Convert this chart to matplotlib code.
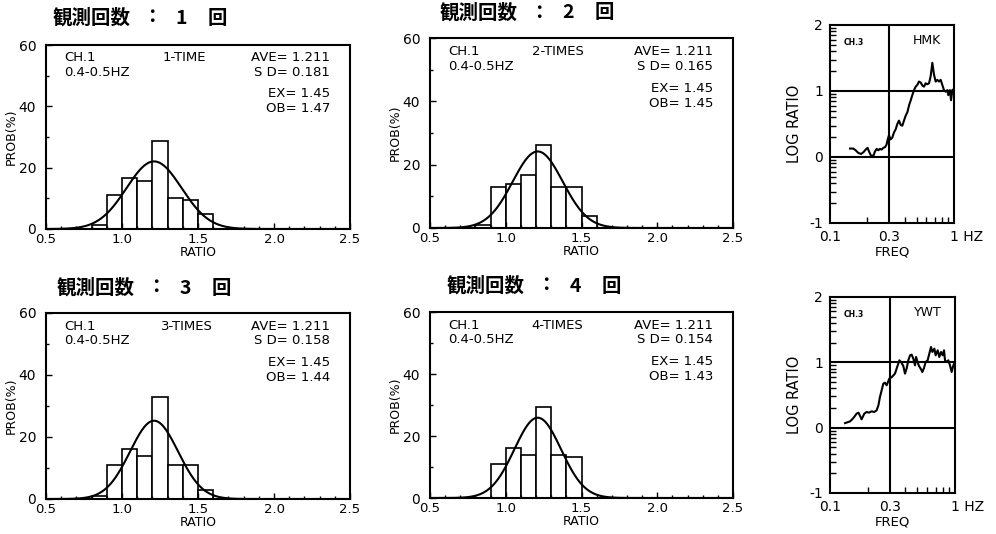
import numpy as np
import matplotlib
matplotlib.use('Agg')
import matplotlib.pyplot as plt
from matplotlib.ticker import FixedLocator, MultipleLocator, NullFormatter

plt.rcParams['font.family'] = ['DejaVu Sans']

# histogram data (bin left edges, width 0.1) -> probability in %
bin_left = [0.8, 0.9, 1.0, 1.1, 1.2, 1.3, 1.4, 1.5]
prob_1 = [1.4, 11.0, 16.5, 15.7, 28.6, 10.0, 9.4, 4.9]
prob_2 = [0.8, 12.9, 14.0, 16.8, 26.1, 12.9, 12.9, 3.9]
prob_3 = [0.9, 11.1, 16.0, 13.8, 33.0, 10.9, 10.9, 2.8]
prob_4 = [0.0, 11.1, 16.0, 13.8, 29.5, 14.0, 13.3, 0.0]

ave = [1.211, 1.211, 1.211, 1.211]
sd = [0.181, 0.165, 0.158, 0.154]
ex = [1.45, 1.45, 1.45, 1.45]
ob = [1.47, 1.45, 1.44, 1.43]
times = ['1-TIME', '2-TIMES', '3-TIMES', '4-TIMES']
counts = ['1', '2', '3', '4']

# spectral ratio curves (freq in Hz, log10 ratio)
hmk_freq = [0.145, 0.154, 0.161, 0.169, 0.178, 0.186, 0.194, 0.201, 0.206, 0.214,
            0.224, 0.231, 0.238, 0.245, 0.253, 0.261, 0.269, 0.278, 0.286, 0.292,
            0.299, 0.308, 0.318, 0.328, 0.339, 0.349, 0.360, 0.372, 0.383, 0.395,
            0.408, 0.421, 0.434, 0.448, 0.461, 0.476, 0.491, 0.506, 0.522, 0.539,
            0.556, 0.573, 0.591, 0.609, 0.629, 0.648, 0.669, 0.690, 0.712, 0.734,
            0.757, 0.781, 0.805, 0.830, 0.857, 0.884, 0.900, 0.929, 0.946, 0.970, 1.0]
hmk_ratio = [0.128, 0.128, 0.102, 0.062, 0.046, 0.072, 0.113, 0.139, 0.087, 0.020,
             0.020, 0.087, 0.123, 0.102, 0.123, 0.113, 0.139, 0.149, 0.190, 0.267,
             0.329, 0.267, 0.293, 0.371, 0.422, 0.499, 0.551, 0.484, 0.474, 0.551,
             0.628, 0.680, 0.783, 0.860, 0.937, 1.014, 1.066, 1.092, 1.143, 1.128,
             1.082, 1.066, 1.117, 1.102, 1.117, 1.221, 1.427, 1.246, 1.143, 1.169,
             1.143, 1.169, 1.092, 1.014, 0.989, 1.014, 0.937, 1.014, 0.860, 1.014, 1.03]

ywt_freq = [0.132, 0.145, 0.154, 0.163, 0.169, 0.174, 0.179, 0.188, 0.196, 0.205,
            0.215, 0.226, 0.236, 0.244, 0.251, 0.259, 0.267, 0.275, 0.284, 0.298,
            0.311, 0.331, 0.348, 0.359, 0.370, 0.386, 0.398, 0.410, 0.423, 0.437,
            0.450, 0.464, 0.479, 0.488, 0.502, 0.515, 0.535, 0.548, 0.565, 0.582,
            0.604, 0.623, 0.643, 0.659, 0.684, 0.700, 0.727, 0.749, 0.773, 0.797,
            0.817, 0.832, 0.858, 0.884, 0.912, 0.940, 0.970, 1.0]
ywt_ratio = [0.070, 0.097, 0.148, 0.214, 0.230, 0.179, 0.127, 0.214, 0.240, 0.230,
             0.250, 0.240, 0.265, 0.342, 0.470, 0.572, 0.674, 0.689, 0.648, 0.750,
             0.771, 0.827, 0.954, 1.031, 1.005, 0.944, 0.827, 0.903, 1.031, 1.107,
             1.118, 1.057, 0.954, 1.082, 1.005, 0.944, 0.893, 0.852, 0.913, 1.005,
             1.031, 1.133, 1.235, 1.159, 1.210, 1.107, 1.184, 1.082, 1.159, 1.107,
             1.184, 1.031, 1.005, 1.031, 0.954, 0.852, 0.954, 1.005]

W, H = 996, 534


def box(l, t, r, b):
    return [l / W, 1 - b / H, (r - l) / W, (b - t) / H]


def px(x, y):
    return x / W, 1 - y / H


fig = plt.figure(figsize=(W / 100, H / 100), dpi=100)
cjk = ['Noto Sans CJK JP', 'DejaVu Sans']

hist_boxes = [box(46, 45, 350, 229), box(430, 38, 733, 228),
              box(46, 313, 350, 499), box(430, 312, 733, 498)]
# title anchor (left x of the kanji, centre y)
title_pos = [(53, 18), (440, 13), (57, 288), (447, 286)]
times_x = [0.385, 0.338, 0.378, 0.334]
probs = [prob_1, prob_2, prob_3, prob_4]

xs = np.linspace(0.5, 2.5, 400)
for i in range(4):
    ax = fig.add_axes(hist_boxes[i])
    ax.bar(bin_left, probs[i], width=0.1, align='edge', facecolor='white',
           edgecolor='black', linewidth=1.2)
    # fitted normal curve from AVE / SD, scaled to bin width 0.1
    curve = 100 * 0.1 * np.exp(-0.5 * ((xs - ave[i]) / sd[i]) ** 2) / (sd[i] * np.sqrt(2 * np.pi))
    ax.plot(xs, curve, color='black', linewidth=1.5)
    ax.set_xlim(0.5, 2.5)
    ax.set_ylim(0, 60)
    ax.set_xticks([0.5, 1.0, 1.5, 2.0, 2.5])
    ax.set_xticklabels(['0.5', '1.0', '1.5', '2.0', '2.5'])
    ax.set_yticks([0, 20, 40, 60])
    ax.xaxis.set_minor_locator(MultipleLocator(0.1))
    ax.yaxis.set_minor_locator(MultipleLocator(10))
    ax.tick_params(which='major', direction='in', length=4, width=1)
    ax.tick_params(axis='x', which='major', labelsize=9.5, pad=3)
    ax.tick_params(axis='y', which='major', labelsize=10, pad=7)
    ax.tick_params(which='minor', direction='in', length=2, width=1)
    for s in ax.spines.values():
        s.set_linewidth(1.5)
    ax.set_xlabel('RATIO', fontsize=9, labelpad=0)
    ax.set_ylabel('PROB(%)', fontsize=9, labelpad=1)
    tk = dict(transform=ax.transAxes, fontsize=9.5, va='center')
    ax.text(0.06, 0.93, 'CH.1', ha='left', **tk)
    ax.text(0.06, 0.85, '0.4-0.5HZ', ha='left', **tk)
    ax.text(times_x[i], 0.93, times[i], ha='left', **tk)
    ax.text(0.935, 0.93, 'AVE= %.3f' % ave[i], ha='right', **tk)
    ax.text(0.935, 0.85, 'S D= %.3f' % sd[i], ha='right', **tk)
    ax.text(0.935, 0.735, 'EX= %.2f' % ex[i], ha='right', **tk)
    ax.text(0.935, 0.655, 'OB= %.2f' % ob[i], ha='right', **tk)
    tx, ty = title_pos[i]
    tstyle = dict(va='center', fontsize=14, fontweight='bold', family=cjk)
    fig.text(*px(tx, ty), '観測回数', ha='left', **tstyle)
    fig.text(*px(tx + 99, ty), '：', ha='center', **tstyle)
    fig.text(*px(tx + 128, ty), counts[i], ha='center', **tstyle)
    fig.text(*px(tx + 164, ty), '回', ha='center', **tstyle)

ratio_boxes = [box(830, 25, 954, 223), box(830, 297, 955, 493)]
curves = [(hmk_freq, hmk_ratio, 'HMK'), (ywt_freq, ywt_ratio, 'YWT')]
log_minor = [d + np.log10(k) for d in (-1, 0, 1) for k in range(2, 10)]

for i in range(2):
    ax = fig.add_axes(ratio_boxes[i])
    f, r, name = curves[i]
    ax.plot(f, r, color='black', linewidth=1.5)
    ax.set_xscale('log')
    ax.set_xlim(0.1, 1.0)
    ax.set_ylim(-1, 2)
    ax.axvline(0.3, color='black', linewidth=1.5)
    ax.axhline(0, color='black', linewidth=1.5)
    ax.axhline(1, color='black', linewidth=1.5)
    ax.set_xticks([0.1, 0.3, 1.0])
    ax.set_xticklabels(['0.1', '0.3', ''])
    ax.xaxis.set_minor_locator(FixedLocator([0.2, 0.4, 0.5, 0.6, 0.7, 0.8, 0.9]))
    ax.xaxis.set_minor_formatter(NullFormatter())
    ax.set_yticks([-1, 0, 1, 2])
    ax.set_yticklabels(['-1', '0', '1', '2'])
    ax.yaxis.set_minor_locator(FixedLocator(log_minor))
    ax.tick_params(which='major', direction='in', length=0, labelsize=10, pad=5)
    ax.tick_params(which='minor', direction='in', length=4, width=1)
    for s in ax.spines.values():
        s.set_linewidth(1.5)
    ax.annotate('1 HZ', xy=(1.0, 0), xycoords=('data', 'axes fraction'),
                xytext=(-3, -5), textcoords='offset points', ha='left', va='top',
                fontsize=10, annotation_clip=False)
    ax.set_xlabel('FREQ', fontsize=9.5, labelpad=1)
    ax.set_ylabel('LOG RATIO', fontsize=10.5, labelpad=5)
    ax.text(0.11, 0.91, 'CH.3', transform=ax.transAxes, fontsize=5.5,
            fontweight='bold', va='center', ha='left')
    ax.text(0.78, 0.92, name, transform=ax.transAxes, fontsize=9,
            va='center', ha='center')

fig.savefig('out.png', dpi=100, facecolor='white')
